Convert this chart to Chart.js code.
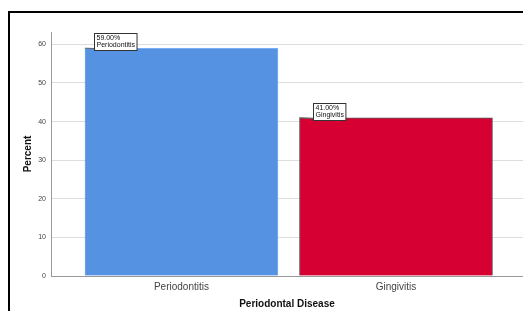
<!DOCTYPE html>
<html>
<head>
<meta charset="utf-8">
<script src="https://cdn.jsdelivr.net/npm/chart.js@4/dist/chart.umd.min.js"></script>
<style>
  html, body { margin: 0; padding: 0; background: #fff; overflow: hidden; }
  #frame { position: absolute; left: 8px; top: 11px; width: 600px; height: 400px;
           border-top: 2px solid #000; border-left: 2px solid #000; }
  #wrap { position: absolute; left: 0; top: 0; width: 523px; height: 311px; }
</style>
</head>
<body>
<div id="frame"></div>
<div id="wrap"><canvas id="chart"></canvas></div>
<script>
const categories = ['Periodontitis', 'Gingivitis'];
const percents = [59, 41];
const barColors = ['#5593e2', '#d60032'];
const barBorders = ['#7aaef0', '#555555'];
const yMax = 63.2;
const yStep = 10;

const FONT = '"Liberation Sans", Arial, sans-serif';

// little callout boxes SPSS puts on top of each bar
const calloutPlugin = {
  id: 'callouts',
  afterDatasetsDraw(chart) {
    const ctx = chart.ctx;
    const meta = chart.getDatasetMeta(0);
    const shift = [9, 14];
    meta.data.forEach((bar, i) => {
      const left = bar.x - bar.width / 2;
      const top = bar.y;
      const lines = [percents[i].toFixed(2) + '%', categories[i]];
      ctx.save();
      ctx.font = '7px ' + FONT;
      const w = Math.max(...lines.map(t => ctx.measureText(t).width)) + 4;
      const h = 17;
      const bx = Math.round(left + shift[i]) + 0.5;
      const by = Math.round(top + 2 - h) + 0.5;
      ctx.strokeStyle = '#666';
      ctx.lineWidth = 1;
      ctx.beginPath();
      ctx.moveTo(left, top);
      ctx.lineTo(bx, by + h - 2);
      ctx.stroke();
      ctx.fillStyle = '#fff';
      ctx.fillRect(bx, by, w, h);
      ctx.strokeStyle = '#333';
      ctx.strokeRect(bx, by, w, h);
      ctx.fillStyle = '#111';
      ctx.textBaseline = 'top';
      ctx.fillText(lines[0], bx + 2, by + 1.5);
      ctx.fillText(lines[1], bx + 2, by + 8.5);
      ctx.restore();
    });
  }
};

new Chart(document.getElementById('chart'), {
  type: 'bar',
  data: {
    datasets: [{
      label: 'Percent',
      data: categories.map((c, i) => ({ x: i, y: percents[i] })),
      backgroundColor: barColors,
      borderColor: barBorders,
      borderWidth: 1,
      barThickness: 193
    }]
  },
  options: {
    responsive: true,
    maintainAspectRatio: false,
    animation: false,
    layout: { padding: { top: 32, right: 0, left: 0, bottom: 0 } },
    plugins: {
      legend: { display: false },
      tooltip: { enabled: false }
    },
    scales: {
      x: {
        type: 'linear',
        min: -0.608,
        max: 1.592,
        offset: false,
        afterFit(scale) { scale.height = 35; },
        afterBuildTicks(scale) { scale.ticks = categories.map((c, i) => ({ value: i })); },
        grid: { display: false, drawTicks: false },
        border: { color: '#999', width: 1 },
        ticks: {
          padding: 5,
          color: '#444',
          font: { family: FONT, size: 10 },
          callback: v => categories[v]
        },
        title: {
          display: true,
          text: 'Periodontal Disease',
          color: '#111',
          font: { family: FONT, size: 10, weight: 'bold' },
          padding: { top: 0, bottom: 1 }
        }
      },
      y: {
        min: 0,
        max: yMax,
        afterFit(scale) { scale.width = 51; },
        afterBuildTicks(scale) {
          const t = [];
          for (let v = 0; v <= yMax; v += yStep) t.push({ value: v });
          scale.ticks = t;
        },
        grid: { color: '#dddddd', lineWidth: 1, drawTicks: false },
        border: { color: '#999', width: 1 },
        ticks: {
          padding: 5,
          color: '#444',
          font: { family: FONT, size: 7 }
        },
        title: {
          display: true,
          text: 'Percent',
          color: '#111',
          font: { family: FONT, size: 10, weight: 'bold' },
          padding: { top: 22, bottom: 0 }
        }
      }
    }
  },
  plugins: [calloutPlugin]
});
</script>
</body>
</html>
